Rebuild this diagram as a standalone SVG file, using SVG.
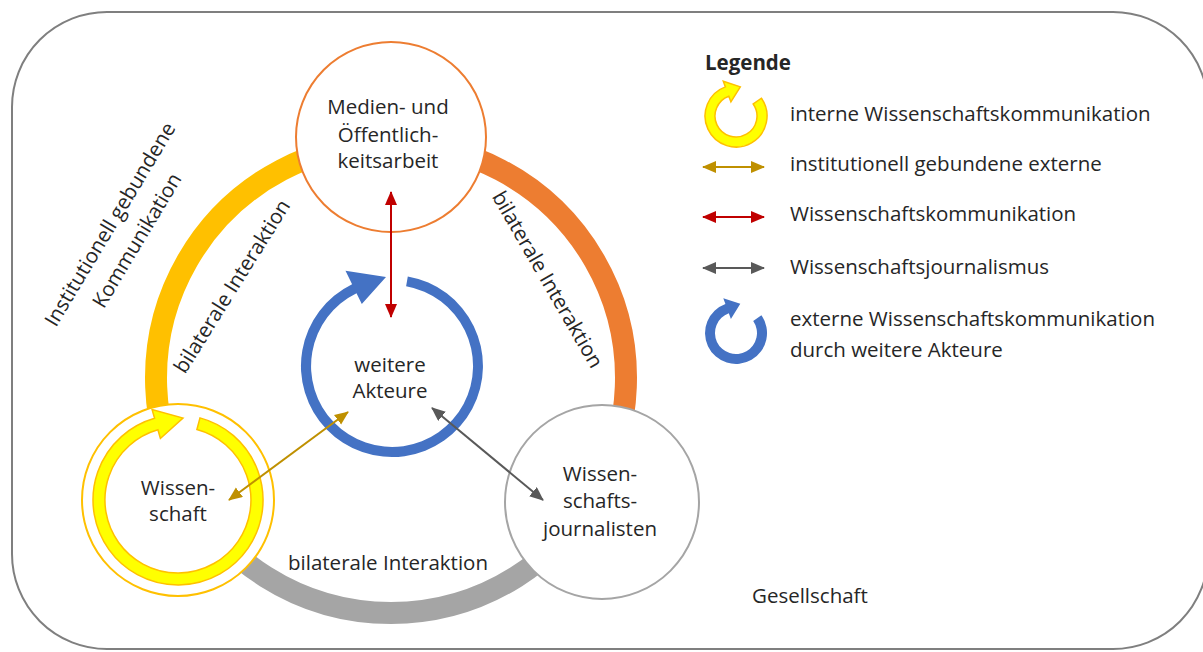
<svg xmlns="http://www.w3.org/2000/svg" width="1203" height="652" viewBox="0 0 1203 652">
<style>
.t{font-family:"Open Sans","Liberation Sans",sans-serif;font-size:20.5px;fill:#262626;}
.c{text-anchor:middle;}
.node{fill:#fff;}
</style>
<defs>
<marker id="ag" markerUnits="userSpaceOnUse" markerWidth="16" markerHeight="14" refX="13" refY="6" orient="auto-start-reverse" viewBox="0 0 16 14"><path d="M0,0 L14,6 L0,12 z" fill="#BF9000"/></marker>
<marker id="ar" markerUnits="userSpaceOnUse" markerWidth="16" markerHeight="14" refX="13" refY="6" orient="auto-start-reverse" viewBox="0 0 16 14"><path d="M0,0 L14,6 L0,12 z" fill="#C00000"/></marker>
<marker id="ak" markerUnits="userSpaceOnUse" markerWidth="16" markerHeight="14" refX="13" refY="6" orient="auto-start-reverse" viewBox="0 0 16 14"><path d="M0,0 L14,6 L0,12 z" fill="#595959"/></marker>
</defs>
<rect x="12" y="12" width="1196" height="637" rx="95" ry="95" fill="#fff" stroke="#7F7F7F" stroke-width="2"/>

<g id="ring">
<path d="M 187.5 495.5 A 235 235 0 0 1 391 143" fill="none" stroke="#FFC000" stroke-width="22"/>
<path d="M 391 143 A 235 235 0 0 1 594.5 495.5" fill="none" stroke="#ED7D31" stroke-width="22"/>
<path d="M 594.5 495.5 A 235 235 0 0 1 187.5 495.5" fill="none" stroke="#A5A5A5" stroke-width="22"/>
</g>

<g id="labels">
<text class="t c" transform="rotate(-59 116 228)" x="116" y="228">Institutionell gebundene</text>
<text class="t c" transform="rotate(-59 143 244)" x="143" y="244">Kommunikation</text>
<text class="t c" transform="rotate(-58 238 290)" x="238" y="290">bilaterale Interaktion</text>
<text class="t c" transform="rotate(60 541.5 283)" x="541.5" y="283">bilaterale Interaktion</text>
<text class="t c" x="388" y="570">bilaterale Interaktion</text>
<text class="t" x="752" y="603">Gesellschaft</text>
</g>

<g id="medien">
<circle class="node" cx="391" cy="137" r="95" stroke="#ED7D31" stroke-width="2"/>
<text class="t c" x="388" y="114">Medien- und</text>
<text class="t c" x="388" y="142">Öffentlich-</text>
<text class="t c" x="388" y="168">keitsarbeit</text>
</g>

<g id="wissenschaft">
<circle class="node" cx="178" cy="500" r="96" stroke="#FFC000" stroke-width="2"/>
<path d="M 200 417.9 A 85 85 0 1 1 154.6 418.3 L 152.1 409.6 L 183 418 L 160.4 438.5 L 157.9 429.8 A 73 73 0 1 0 196.9 429.5 Z" fill="#FFFF00" stroke="#FFC000" stroke-width="1.5"/>
<text class="t c" x="178" y="495">Wissen-</text>
<text class="t c" x="178" y="521">schaft</text>
</g>

<g id="journalisten">
<circle class="node" cx="602" cy="502" r="97" stroke="#A5A5A5" stroke-width="2"/>
<text class="t c" x="600" y="481">Wissen-</text>
<text class="t c" x="600" y="508">schafts-</text>
<text class="t c" x="600" y="536">journalisten</text>
</g>

<g id="akteure">
<path d="M 407.8 276.4 A 91 91 0 1 1 352.1 284.2 L 345.5 270.7 L 386 277 L 361.8 304 L 356.5 293.2 A 81 81 0 1 0 406.1 286.2 Z" fill="#4472C4"/>
<text class="t c" x="390" y="372">weitere</text>
<text class="t c" x="390" y="398">Akteure</text>
</g>

<g id="connectors">
<line x1="391" y1="192" x2="391" y2="317" stroke="#C00000" stroke-width="2" marker-start="url(#ar)" marker-end="url(#ar)"/>
<line x1="229" y1="500" x2="348" y2="412" stroke="#BF9000" stroke-width="2" marker-start="url(#ag)" marker-end="url(#ag)"/>
<line x1="432" y1="408" x2="543" y2="500" stroke="#595959" stroke-width="2" marker-start="url(#ak)" marker-end="url(#ak)"/>
</g>

<g id="legende">
<text class="t" x="705" y="70" font-weight="bold" font-size="19">Legende</text>
<path d="M 761.4 98.2 A 31 31 0 1 1 725.4 86.9 L 723.3 81.2 L 740.3 86.8 L 730.9 101.9 L 728.8 96.3 A 21 21 0 1 0 753.2 104 Z" fill="#FFFF00" stroke="#FFC000" stroke-width="1.5"/>
<text class="t" x="790" y="121">interne Wissenschaftskommunikation</text>
<line x1="703" y1="167" x2="764" y2="167" stroke="#BF9000" stroke-width="2" marker-start="url(#ag)" marker-end="url(#ag)"/>
<text class="t" x="790" y="171">institutionell gebundene externe</text>
<line x1="703" y1="217" x2="764" y2="217" stroke="#C00000" stroke-width="2" marker-start="url(#ar)" marker-end="url(#ar)"/>
<text class="t" x="790" y="221">Wissenschaftskommunikation</text>
<line x1="703" y1="268" x2="764" y2="268" stroke="#595959" stroke-width="2" marker-start="url(#ak)" marker-end="url(#ak)"/>
<text class="t" x="790" y="274">Wissenschaftsjournalismus</text>
<path d="M 761.4 315.2 A 31 31 0 1 1 725.4 303.9 L 723.3 298.2 L 740.3 303.8 L 730.9 318.9 L 728.8 313.3 A 21 21 0 1 0 753.2 321 Z" fill="#4472C4"/>
<text class="t" x="790" y="326">externe Wissenschaftskommunikation</text>
<text class="t" x="790" y="357">durch weitere Akteure</text>
</g>
</svg>
